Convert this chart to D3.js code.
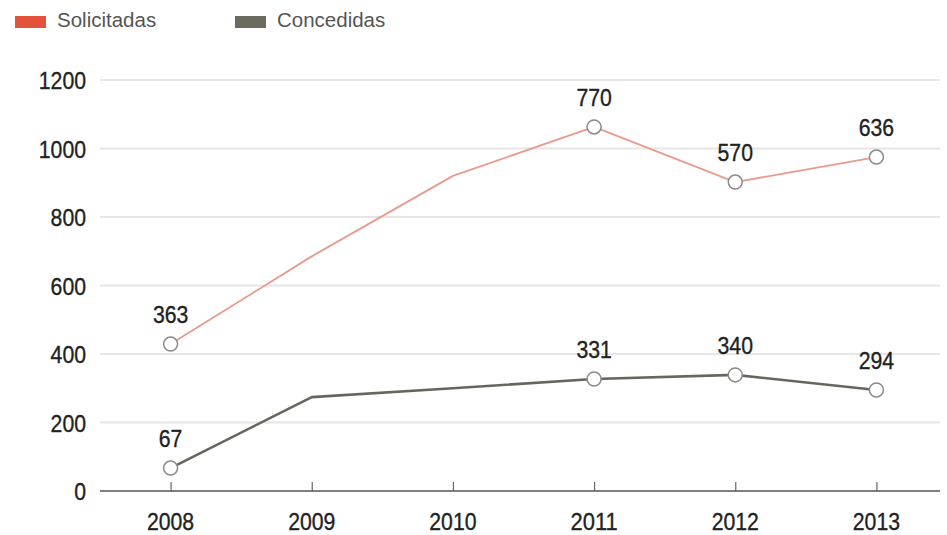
<!DOCTYPE html>
<html><head><meta charset="utf-8">
<script src="https://cdn.jsdelivr.net/npm/d3@7"></script>
<style>body{margin:0;background:#fff}svg{display:block}</style>
</head><body>
<svg id="c" width="947" height="535"></svg>
<script>
const years = ["2008","2009","2010","2011","2012","2013"];
const solicitadas = [429, 685, 920, 1063, 902, 975];
const concedidas = [67, 274, 300, 327, 339, 295];
const solicitadasLabels = ["363", null, null, "770", "570", "636"];
const concedidasLabels = ["67", null, null, "331", "340", "294"];
const yTicks = [0, 200, 400, 600, 800, 1000, 1200];
const seriesNames = ["Solicitadas", "Concedidas"];

const svg = d3.select("#c");
const W = 947, H = 535;
const m = {left: 100, right: 0, top: 80, bottom: 44};
const x = d3.scalePoint().domain(years).range([m.left, W - m.right]).padding(0.5);
const y = d3.scaleLinear().domain([0, 1200]).range([H - m.bottom, m.top]);
const numFont = "'Liberation Sans', Arial, sans-serif";
const digitW = 11.8;
function condense(sel) {
  sel.attr("font-family", numFont).attr("font-size", 24.5).attr("fill", "#222")
    .attr("stroke", "#222").attr("stroke-width", 0.35)
    .attr("lengthAdjust", "spacingAndGlyphs")
    .attr("textLength", function() { return this.textContent.length * digitW; });
}

// gridlines
svg.append("g").selectAll("line").data(yTicks.filter(d => d > 0)).join("line")
  .attr("x1", m.left).attr("x2", 940)
  .attr("y1", d => y(d)).attr("y2", d => y(d))
  .attr("stroke", "#e6e6e6").attr("stroke-width", 2);

// y axis labels
const yAxis = svg.append("g").attr("transform", `translate(${m.left - 14},0)`)
  .call(d3.axisLeft(y).tickValues(yTicks).tickFormat(d3.format("d")).tickSize(0).tickPadding(0));
yAxis.select(".domain").remove();
yAxis.selectAll("text").call(condense).attr("dy", "0.36em");

// x axis
const xAxis = svg.append("g").attr("transform", `translate(0,${y(0)})`)
  .call(d3.axisTop(x).tickSize(9).tickFormat(""));
xAxis.select(".domain").remove();
xAxis.selectAll("line").attr("stroke", "#666").attr("stroke-width", 1.2);
svg.append("line").attr("x1", m.left).attr("x2", 940).attr("y1", y(0)).attr("y2", y(0))
  .attr("stroke", "#555").attr("stroke-width", 1.6);
svg.append("g").selectAll("text").data(years).join("text")
  .attr("x", d => x(d)).attr("y", 530).attr("text-anchor", "middle")
  .text(d => d).call(condense);

const line = d3.line().x((d, i) => x(years[i])).y(d => y(d));

function drawSeries(vals, labels, color, width) {
  svg.append("path").datum(vals).attr("d", line).attr("fill", "none")
    .attr("stroke", color).attr("stroke-width", width).attr("stroke-linejoin", "round");
  const pts = vals.map((v, i) => ({v, i, l: labels[i]})).filter(d => d.l !== null);
  svg.append("g").selectAll("circle").data(pts).join("circle")
    .attr("cx", d => x(years[d.i])).attr("cy", d => y(d.v)).attr("r", 7)
    .attr("fill", "#fff").attr("stroke", "#8a8a8a").attr("stroke-width", 1.5);
  svg.append("g").selectAll("text").data(pts).join("text")
    .attr("x", d => x(years[d.i])).attr("y", d => y(d.v) - 21)
    .attr("text-anchor", "middle").text(d => d.l).call(condense);
}
drawSeries(solicitadas, solicitadasLabels, "#e99a8c", 1.8);
drawSeries(concedidas, concedidasLabels, "#66665c", 2.6);

// legend
const legColors = ["#e3533c", "#6b6b60"];
const legX = [15, 235];
const leg = svg.append("g").selectAll("g").data(seriesNames).join("g")
  .attr("transform", (d, i) => `translate(${legX[i]},0)`);
leg.append("rect").attr("x", 0).attr("y", 16).attr("width", 31).attr("height", 12)
  .attr("fill", (d, i) => legColors[i]);
leg.append("text").attr("x", 42).attr("y", 27).attr("font-family", "Arial, 'Liberation Sans', sans-serif")
  .attr("font-size", 20.5).attr("fill", "#555").text(d => d);
</script>
</body></html>
